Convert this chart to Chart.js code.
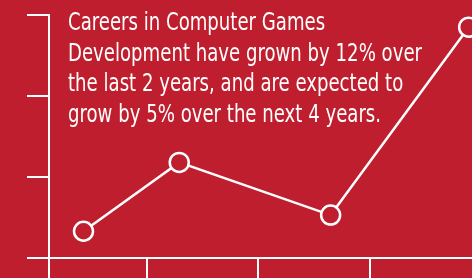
<!DOCTYPE html>
<html>
<head>
<meta charset="utf-8">
<script src="https://cdn.jsdelivr.net/npm/chart.js@4"></script>
<style>
  html, body { margin: 0; padding: 0; background: #bf1e2e; }
  canvas { display: block; }
</style>
</head>
<body>
<canvas id="careersChart" width="472" height="278"></canvas>
<script>
// data
const years = [0.31, 1.17, 2.53, 3.77];
const growth = [3.3, 11.8, 5.3, 28.5];
const xTickValues = [0, 0.88, 1.88, 2.88];
const yTickValues = [0, 10, 20, 30];
const captionLines = [
    "Careers in Computer Games",
    "Development have grown by 12% over",
    "the last 2 years, and are expected to",
    "grow by 5% over the next 4 years."
];

const red = '#bf1e2e';
const white = '#ffffff';

// caption text, squeezed a bit to look like a condensed face
const captionPlugin = {
    id: 'caption',
    beforeDatasetsDraw(chart){
        const ctx = chart.ctx;
        ctx.save();
        ctx.font = '24px "DejaVu Sans Condensed", "Liberation Sans", Arial, sans-serif';
        ctx.fillStyle = white;
        ctx.textBaseline = 'alphabetic';
        const w = ctx.measureText(captionLines[1]).width;
        const sx = Math.min(1, 354 / w);
        ctx.scale(sx, 1);
        captionLines.forEach(function(line, i){
            ctx.fillText(line, 68 / sx, 30 + i * 30.7);
        });
        ctx.restore();
    }
};

const ctx = document.getElementById("careersChart");

new Chart(ctx, {
    type: 'line',
    data: {
        datasets: [{
            data: years.map((x, i) => ({ x: x, y: growth[i] })),
            borderColor: white,
            borderWidth: 2.5,
            pointRadius: 9.5,
            pointHoverRadius: 9.5,
            pointBorderWidth: 2.5,
            pointBackgroundColor: red,
            pointBorderColor: white,
            tension: 0,
            clip: false
        }]
    },
    options: {
        responsive: false,
        animation: false,
        devicePixelRatio: 1,
        layout: {
            autoPadding: false,
            padding: { left: 27, top: 15, right: 0, bottom: 0 }
        },
        plugins: {
            legend: { display: false },
            tooltip: { enabled: false }
        },
        scales: {
            x: {
                type: 'linear',
                min: 0,
                max: 3.8,
                afterBuildTicks(scale){
                    scale.ticks = xTickValues.map(v => ({ value: v }));
                },
                ticks: { display: false },
                grid: {
                    drawOnChartArea: false,
                    drawTicks: true,
                    tickLength: 20,
                    color: white,
                    lineWidth: 2
                },
                border: { display: true, color: white, width: 2 }
            },
            y: {
                min: 0,
                max: 30,
                afterBuildTicks(scale){
                    scale.ticks = yTickValues.map(v => ({ value: v }));
                },
                ticks: { display: false },
                grid: {
                    drawOnChartArea: false,
                    drawTicks: true,
                    tickLength: 22,
                    color: white,
                    lineWidth: 2
                },
                border: { display: true, color: white, width: 2 }
            }
        }
    },
    plugins: [captionPlugin]
});
</script>
</body>
</html>
